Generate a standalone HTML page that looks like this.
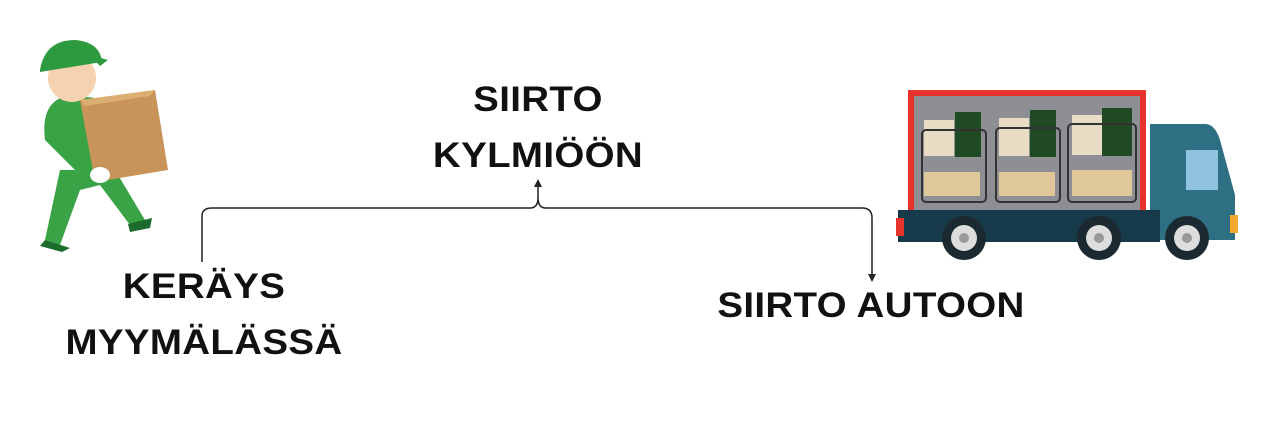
<!DOCTYPE html>
<html><head><style>
body{margin:0;width:1286px;height:422px;background:#fff;overflow:hidden;position:relative;font-family:"Liberation Sans",sans-serif}
.t{position:absolute;font-weight:bold;font-size:35px;color:#111;text-align:center;line-height:56px;white-space:nowrap;transform:scaleX(1.1);letter-spacing:0.3px}
</style></head><body>
<svg width="1286" height="422" style="position:absolute;left:0;top:0">
<path d="M202 262 V216 Q202 208 212 208 H530 Q538 208 538 198 V184 M538 198 Q538 208 546 208 H862 Q872 208 872 218 V277" fill="none" stroke="#222" stroke-width="1.5"/>
<path d="M534 187 L538 179 L542 187 Z" fill="#222"/>
<path d="M868 274 L872 282 L876 274 Z" fill="#222"/>
<g>
<path d="M45 140 Q40 100 70 95 L95 98 Q110 120 100 170 L85 180 Z" fill="#3aa346"/>
<path d="M60 170 L45 240 L60 245 L80 190 L100 185 L130 225 L145 220 L115 170 Z" fill="#3aa346"/>
<path d="M45 240 L70 248 L62 252 L40 246 Z" fill="#1b6b2c"/>
<path d="M128 224 L152 218 L150 228 L130 232 Z" fill="#1b6b2c"/>
<circle cx="72" cy="78" r="24" fill="#f5d2b0"/>
<path d="M40 70 Q45 40 75 40 Q100 42 102 62 L40 72 Z" fill="#2e9a3f"/>
<path d="M90 55 L108 60 L100 66 Z" fill="#2e9a3f"/>
<path d="M80 100 L155 90 L168 170 L95 182 Z" fill="#c89459"/>
<path d="M80 100 L155 90 L150 96 L85 106 Z" fill="#dcae74"/>
<ellipse cx="100" cy="175" rx="10" ry="8" fill="#fff"/>
</g>
<rect x="908" y="90" width="238" height="124" fill="#e8322c"/>
<rect x="914" y="96" width="226" height="114" fill="#8e8f95"/>
<g fill="#e9dcc4"><rect x="924" y="120" width="30" height="36"/><rect x="999" y="118" width="30" height="38"/><rect x="1072" y="115" width="30" height="40"/></g>
<g fill="#1f4a24"><rect x="955" y="112" width="26" height="45"/><rect x="1030" y="110" width="26" height="47"/><rect x="1102" y="108" width="30" height="48"/></g>
<g fill="#e0c79a"><rect x="924" y="172" width="56" height="24"/><rect x="999" y="172" width="56" height="24"/><rect x="1072" y="170" width="60" height="26"/></g>
<g fill="none" stroke="#333" stroke-width="2"><rect x="922" y="130" width="64" height="72" rx="4"/><rect x="996" y="128" width="64" height="74" rx="4"/><rect x="1068" y="124" width="68" height="78" rx="4"/></g>
<path d="M1150 124 H1205 Q1215 124 1220 140 L1235 195 V240 H1150 Z" fill="#2f6f83"/>
<rect x="1186" y="150" width="32" height="40" fill="#8fc2dc"/>
<rect x="1230" y="215" width="8" height="18" fill="#f3a72c"/>
<rect x="898" y="210" width="262" height="32" fill="#163a4a"/>
<rect x="896" y="218" width="8" height="18" fill="#e8322c"/>
<g><circle cx="964" cy="238" r="22" fill="#1b2a30"/><circle cx="964" cy="238" r="13" fill="#ddd"/><circle cx="964" cy="238" r="5" fill="#999"/>
<circle cx="1099" cy="238" r="22" fill="#1b2a30"/><circle cx="1099" cy="238" r="13" fill="#ddd"/><circle cx="1099" cy="238" r="5" fill="#999"/>
<circle cx="1187" cy="238" r="22" fill="#1b2a30"/><circle cx="1187" cy="238" r="13" fill="#ddd"/><circle cx="1187" cy="238" r="5" fill="#999"/></g>
</svg>
<div class="t" style="left:388px;top:72px;width:300px">SIIRTO<br>KYLMIÖÖN</div>
<div class="t" style="left:54px;top:259px;width:300px">KERÄYS<br>MYYMÄLÄSSÄ</div>
<div class="t" style="left:671px;top:278px;width:400px">SIIRTO AUTOON</div>
</body></html>
